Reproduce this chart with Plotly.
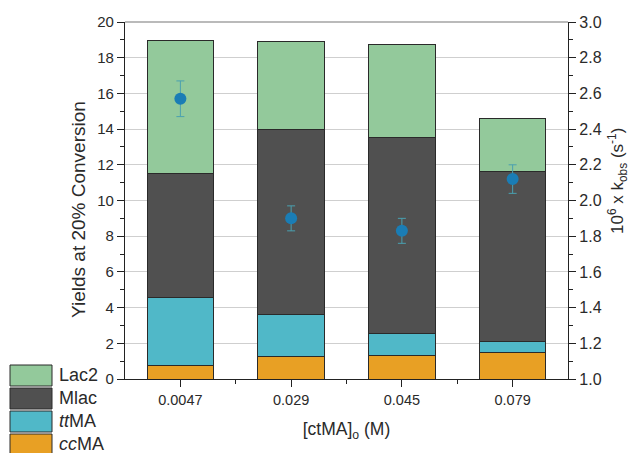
import plotly.graph_objects as go

# ---- data ----
conc_labels = ["0.0047", "0.029", "0.045", "0.079"]
x_pos = [0, 1, 2, 3]
ccMA = [0.75, 1.27, 1.30, 1.51]
ttMA = [3.79, 2.37, 1.26, 0.58]
Mlac = [7.00, 10.31, 10.98, 9.51]
Lac2 = [7.43, 4.97, 5.21, 2.97]
kobs = [2.57, 1.90, 1.83, 2.12]
kobs_err = [0.10, 0.07, 0.07, 0.08]

series_names = ["ccMA", "ttMA", "Mlac", "Lac2"]
series_vals = [ccMA, ttMA, Mlac, Lac2]
series_colors = ["#e8a024", "#50b8c8", "#505050", "#93c99b"]
legend_labels = ["Lac2", "Mlac", "<i>tt</i>MA", "<i>cc</i>MA"]
legend_colors = ["#93c99b", "#505050", "#50b8c8", "#e8a024"]

FONT = "Liberation Sans, Arial, sans-serif"
TXT = "#2a2a2a"
W, H = 631, 453
L, R, T, B = 125, 63, 22, 74
PW, PH = W - L - R, H - T - B

fig = go.Figure()
for name, vals, col in zip(series_names, series_vals, series_colors):
    fig.add_trace(go.Bar(
        x=x_pos, y=vals, name=name, width=0.6,
        marker=dict(color=col, line=dict(color="#2a2a2a", width=1)),
        showlegend=False,
    ))

fig.add_trace(go.Scatter(
    x=x_pos, y=kobs, yaxis="y2", mode="markers",
    marker=dict(color="#1a7db5", size=12),
    error_y=dict(type="data", array=kobs_err, color="#4aa0b0", thickness=1, width=4),
    showlegend=False,
))

fig.update_layout(
    width=W, height=H,
    margin=dict(l=L, r=R, t=T, b=B),
    paper_bgcolor="white", plot_bgcolor="white",
    barmode="stack",
    font=dict(family=FONT, color=TXT),
    xaxis=dict(
        range=[-0.5, 3.5], tickmode="array", tickvals=x_pos, ticktext=conc_labels,
        showline=True, linecolor="#222", linewidth=1.2,
        ticks="outside", ticklen=7, tickcolor="#222",
        tickfont=dict(size=14.5, color=TXT), showgrid=False, zeroline=False,
        minor=dict(tickmode="array", tickvals=[0.5, 1.5, 2.5], ticks="outside", ticklen=4, tickcolor="#222"),
        title=dict(text="[ctMA]<sub>o</sub> (M)", font=dict(size=17.5, color=TXT), standoff=16),
    ),
    yaxis=dict(
        range=[0, 20], dtick=2, showline=True, linecolor="#222", linewidth=1.2,
        ticks="outside", ticklen=7, tickcolor="#222",
        tickfont=dict(size=15, color=TXT), showgrid=True, gridcolor="#cfcfcf", gridwidth=1,
        zeroline=False,
        minor=dict(dtick=1, ticks="outside", ticklen=4, tickcolor="#222", showgrid=False),
    ),
    yaxis2=dict(
        range=[1, 3], dtick=0.2, tickformat=".1f", overlaying="y", side="right",
        showline=True, linecolor="#222", linewidth=1.2,
        ticks="outside", ticklen=7, tickcolor="#222",
        tickfont=dict(size=16, color=TXT), showgrid=False, zeroline=False,
        minor=dict(dtick=0.1, ticks="outside", ticklen=4, tickcolor="#222", showgrid=False),
    ),
)

# top border of plot frame
fig.add_shape(type="line", xref="paper", yref="paper", x0=0, x1=1, y0=1, y1=1,
              line=dict(color="#777", width=1.2))

def px(xp):
    return (xp - L) / PW

def py(yp):
    return (H - B - yp) / PH

# axis titles placed as rotated annotations
fig.add_annotation(xref="paper", yref="paper", x=px(78), y=py(210),
                   text="Yields at 20% Conversion", textangle=-90, showarrow=False,
                   xanchor="center", yanchor="middle",
                   font=dict(size=19, family=FONT, color=TXT))
fig.add_annotation(xref="paper", yref="paper", x=px(617), y=py(181),
                   text="10<sup>6</sup> x k<sub>obs</sub> (s<sup>-1</sup>)", textangle=-90,
                   showarrow=False, xanchor="center", yanchor="middle",
                   font=dict(size=17, family=FONT, color=TXT))

# legend drawn in pixel positions converted to paper coords
row_tops = [365, 388, 411, 434]
for lab, col, top in zip(legend_labels, legend_colors, row_tops):
    fig.add_shape(type="rect", xref="paper", yref="paper",
                  x0=px(10), x1=px(52), y0=py(top + 21), y1=py(top),
                  fillcolor=col, line=dict(color="#2a2a2a", width=1))
    fig.add_annotation(xref="paper", yref="paper", x=px(57), y=py(top + 9.5),
                       text=lab, showarrow=False, xanchor="left", yanchor="middle",
                       font=dict(size=18, family=FONT, color=TXT))

fig.write_html("out.html")
